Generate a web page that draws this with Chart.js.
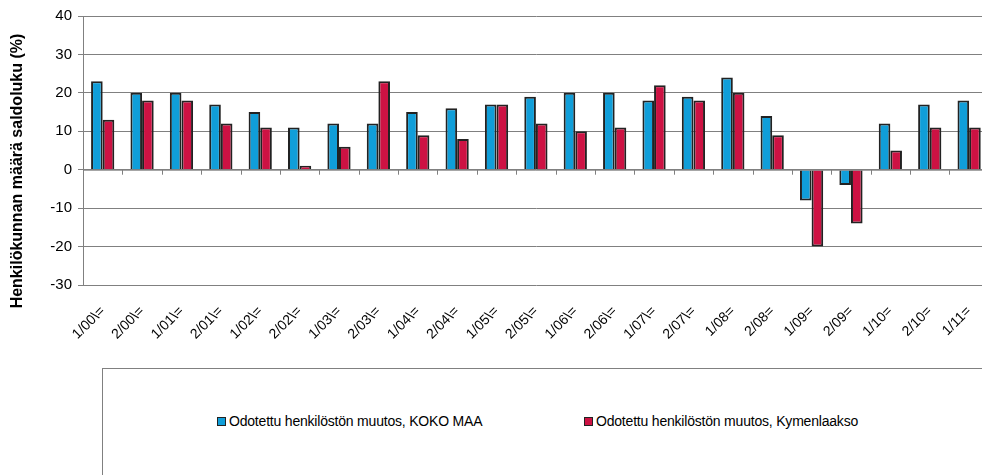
<!DOCTYPE html>
<html>
<head>
<meta charset="utf-8">
<style>
  body { margin: 0; padding: 0; background: #fff; width: 982px; height: 475px; overflow: hidden; position: relative; }
  #wrap { position: absolute; left: 0; top: 0; width: 991px; height: 355px; }
  #legend-box {
    position: absolute; left: 102px; top: 368px; width: 890px; height: 120px;
    border: 1px solid #808080; box-sizing: border-box;
  }
  .item {
    position: absolute; top: 44px;
    font-family: "Liberation Sans", Arial, sans-serif;
    font-size: 14px; color: #000; white-space: nowrap;
    letter-spacing: -0.2px;
  }
  .item span.sw {
    display: inline-block; width: 7px; height: 7px; border: 1px solid #222;
    margin-right: 3px; vertical-align: 0px;
  }
</style>
</head>
<body>
<div id="wrap"><canvas id="chart"></canvas></div>
<div id="legend-box">
  <div class="item" style="left:114px"><span class="sw" id="sw1"></span><span id="lab1"></span></div>
  <div class="item" style="left:481px"><span class="sw" id="sw2"></span><span id="lab2"></span></div>
</div>

<script src="https://cdn.jsdelivr.net/npm/chart.js"></script>
<script>
const periods = ["1/00\\=", "2/00\\=", "1/01\\=", "2/01\\=", "1/02\\=", "2/02\\=", "1/03\\=", "2/03\\=",
  "1/04\\=", "2/04\\=", "1/05\\=", "2/05\\=", "1/06\\=", "2/06\\=", "1/07\\=", "2/07\\=",
  "1/08=", "2/08=", "1/09=", "2/09=", "1/10=", "2/10=", "1/11="];
const kokoMaa = [23, 20, 20, 17, 15, 11, 12, 12, 15, 16, 17, 19, 20, 20, 18, 19, 24, 14, -8, -4, 12, 17, 18];
const kymenlaakso = [13, 18, 18, 12, 11, 1, 6, 23, 9, 8, 17, 12, 10, 11, 22, 18, 20, 9, -20, -14, 5, 11, 11];
const seriesNames = ["Odotettu henkilöstön muutos, KOKO MAA", "Odotettu henkilöstön muutos, Kymenlaakso"];
const yTitle = "Henkilökunnan määrä saldoluku (%)";

const blue = "#109ed9";
const red = "#cd1243";

// legend (html, below the chart)
document.getElementById("lab1").textContent = seriesNames[0];
document.getElementById("lab2").textContent = seriesNames[1];
document.getElementById("sw1").style.background = blue;
document.getElementById("sw2").style.background = red;

// small tick marks at category boundaries on the zero line
const zeroTicks = {
  id: "zeroTicks",
  afterDatasetsDraw(chart) {
    const x = chart.scales.x, y = chart.scales.y;
    const y0 = y.getPixelForValue(0);
    const n = periods.length;
    const ctx = chart.ctx;
    ctx.save();
    ctx.strokeStyle = "#808080";
    ctx.lineWidth = 1;
    ctx.beginPath();
    ctx.moveTo(x.left, y0 + 0.5);
    ctx.lineTo(x.right, y0 + 0.5);
    for (let i = 1; i <= n; i++) {
      const px = Math.round(x.left + i * (x.right - x.left) / n) + 0.5;
      ctx.moveTo(px, y0);
      ctx.lineTo(px, y0 + 5);
    }
    ctx.stroke();
    ctx.restore();
  }
};

// y axis title, drawn by hand so it sits like the original
const yTitlePlugin = {
  id: "yTitlePlugin",
  afterDraw(chart) {
    const ctx = chart.ctx;
    ctx.save();
    ctx.translate(18, 171);
    ctx.rotate(-Math.PI / 2);
    ctx.font = "bold 16px 'Liberation Sans', Arial, sans-serif";
    ctx.fillStyle = "#000";
    ctx.textAlign = "center";
    ctx.textBaseline = "middle";
    ctx.fillText(yTitle, 0, 0);
    ctx.restore();
  }
};

new Chart(document.getElementById("chart"), {
  type: "bar",
  data: {
    labels: periods,
    datasets: [
      { label: seriesNames[0], data: kokoMaa, backgroundColor: blue, borderColor: "#222", borderWidth: 2 },
      { label: seriesNames[1], data: kymenlaakso, backgroundColor: red, borderColor: "#222", borderWidth: 2 }
    ]
  },
  options: {
    responsive: true,
    maintainAspectRatio: false,
    animation: false,
    layout: { padding: { top: 16, right: 0, left: 0, bottom: 0 } },
    datasets: { bar: { categoryPercentage: 0.59, barPercentage: 1.0 } },
    plugins: { legend: { display: false }, tooltip: { enabled: false } },
    scales: {
      x: {
        grid: { display: false },
        border: { display: false },
        ticks: {
          minRotation: 45, maxRotation: 45, autoSkip: false, padding: 10,
          color: "#000", font: { family: "Liberation Sans, Arial, sans-serif", size: 14 }
        },
        afterFit(scale) { scale.height = 355 - 285; }
      },
      y: {
        min: -30, max: 40,
        ticks: { stepSize: 10, color: "#000", padding: 6, font: { family: "Liberation Sans, Arial, sans-serif", size: 15 } },
        grid: { color: "#808080", lineWidth: 1, tickLength: 5 },
        border: { color: "#808080" },
        afterFit(scale) { scale.width = 83; }
      }
    }
  },
  plugins: [zeroTicks, yTitlePlugin]
});
</script>
</body>
</html>
